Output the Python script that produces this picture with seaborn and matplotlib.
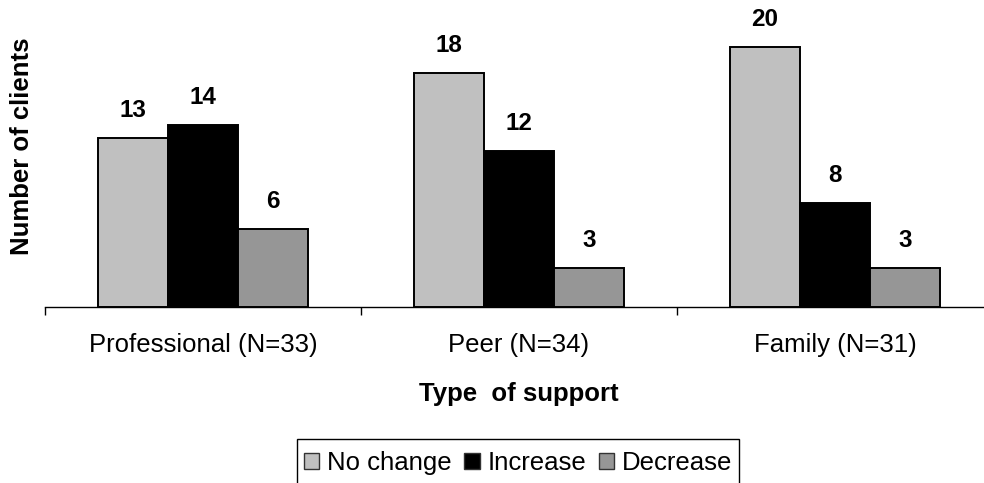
import matplotlib
matplotlib.use("Agg")
import matplotlib.pyplot as plt
from matplotlib.ticker import FixedLocator
from matplotlib.patches import Rectangle
import seaborn as sns
import pandas as pd

# Support types and change categories
support_types = ["Professional (N=33)", "Peer (N=34)", "Family (N=31)"]
changes = ["No change", "Increase", "Decrease"]
no_change = [13, 18, 20]
increase = [14, 12, 8]
decrease = [6, 3, 3]

colors = ["#C0C0C0", "#000000", "#969696"]

rows = []
for i, s in enumerate(support_types):
    for c, vals in zip(changes, [no_change, increase, decrease]):
        rows.append({"support": s, "change": c, "clients": vals[i]})
df = pd.DataFrame(rows)

sns.set_style("white")
plt.rcParams["font.family"] = ["Liberation Sans", "DejaVu Sans"]
plt.rcParams["text.color"] = "black"
plt.rcParams["axes.labelcolor"] = "black"
plt.rcParams["xtick.color"] = "black"
plt.rcParams["xtick.labelcolor"] = "black"

fig = plt.figure(figsize=(9.84, 4.83), dpi=100)
ax = fig.add_axes([45 / 984, 1 - 307 / 483, 948 / 984, 307 / 483])

sns.barplot(
    data=df, x="support", y="clients", hue="change",
    hue_order=changes, order=support_types, palette=colors,
    width=0.667, edgecolor="black", linewidth=1.4, ax=ax,
    errorbar=None, legend=True,
)

ax.set_xlim(-0.5, 2.5)
ax.set_ylim(0, 307 / 13.0)

# value labels above each bar
for cont in ax.containers:
    for bar in cont:
        h = bar.get_height()
        ax.annotate(f"{h:g}", (bar.get_x() + bar.get_width() / 2, h),
                    xytext=(0, 19.8), textcoords="offset points",
                    ha="center", va="center", fontsize=17.5,
                    fontweight="bold", color="black")

for side in ["left", "top", "right"]:
    ax.spines[side].set_visible(False)
ax.spines["bottom"].set_linewidth(1.0)
ax.spines["bottom"].set_color("black")
ax.set_yticks([])

ax.tick_params(axis="x", which="major", length=0, pad=19, labelsize=18.5,
               labelcolor="black")
ax.xaxis.set_minor_locator(FixedLocator([-0.5, 0.5, 1.5, 2.5]))
ax.tick_params(axis="x", which="minor", length=6, width=1.0, color="black",
               direction="out", bottom=True)

ax.set_xlabel("Type  of support", fontsize=18.5, fontweight="bold",
              labelpad=18, color="black")
ax.set_ylabel("")
fig.text(22 / 984, 1 - 146 / 483, "Number of clients", rotation=90,
         ha="center", va="center", fontsize=18.5, fontweight="bold",
         color="black")

handles, labels = ax.get_legend_handles_labels()
ax.legend_.remove()
leg = fig.legend(handles, labels, loc="center", ncol=3,
                 bbox_to_anchor=(518 / 984, 1 - 463 / 483),
                 bbox_transform=fig.transFigure,
                 fontsize=18.5, frameon=False,
                 handlelength=0.6, handleheight=0.6,
                 handletextpad=0.3, columnspacing=0.5, borderpad=0.0,
                 borderaxespad=0)
for t in leg.get_texts():
    t.set_color("black")
for h in leg.legend_handles:
    h.set_edgecolor("#333333")
    h.set_linewidth(1.0)

# legend frame, running off the bottom edge
fig.patches.append(Rectangle((297 / 984, -0.05), (739 - 297) / 984,
                             (483 - 439) / 483 + 0.05,
                             transform=fig.transFigure, fill=False,
                             edgecolor="black", linewidth=1.0))

fig.savefig("out.png", dpi=100)
